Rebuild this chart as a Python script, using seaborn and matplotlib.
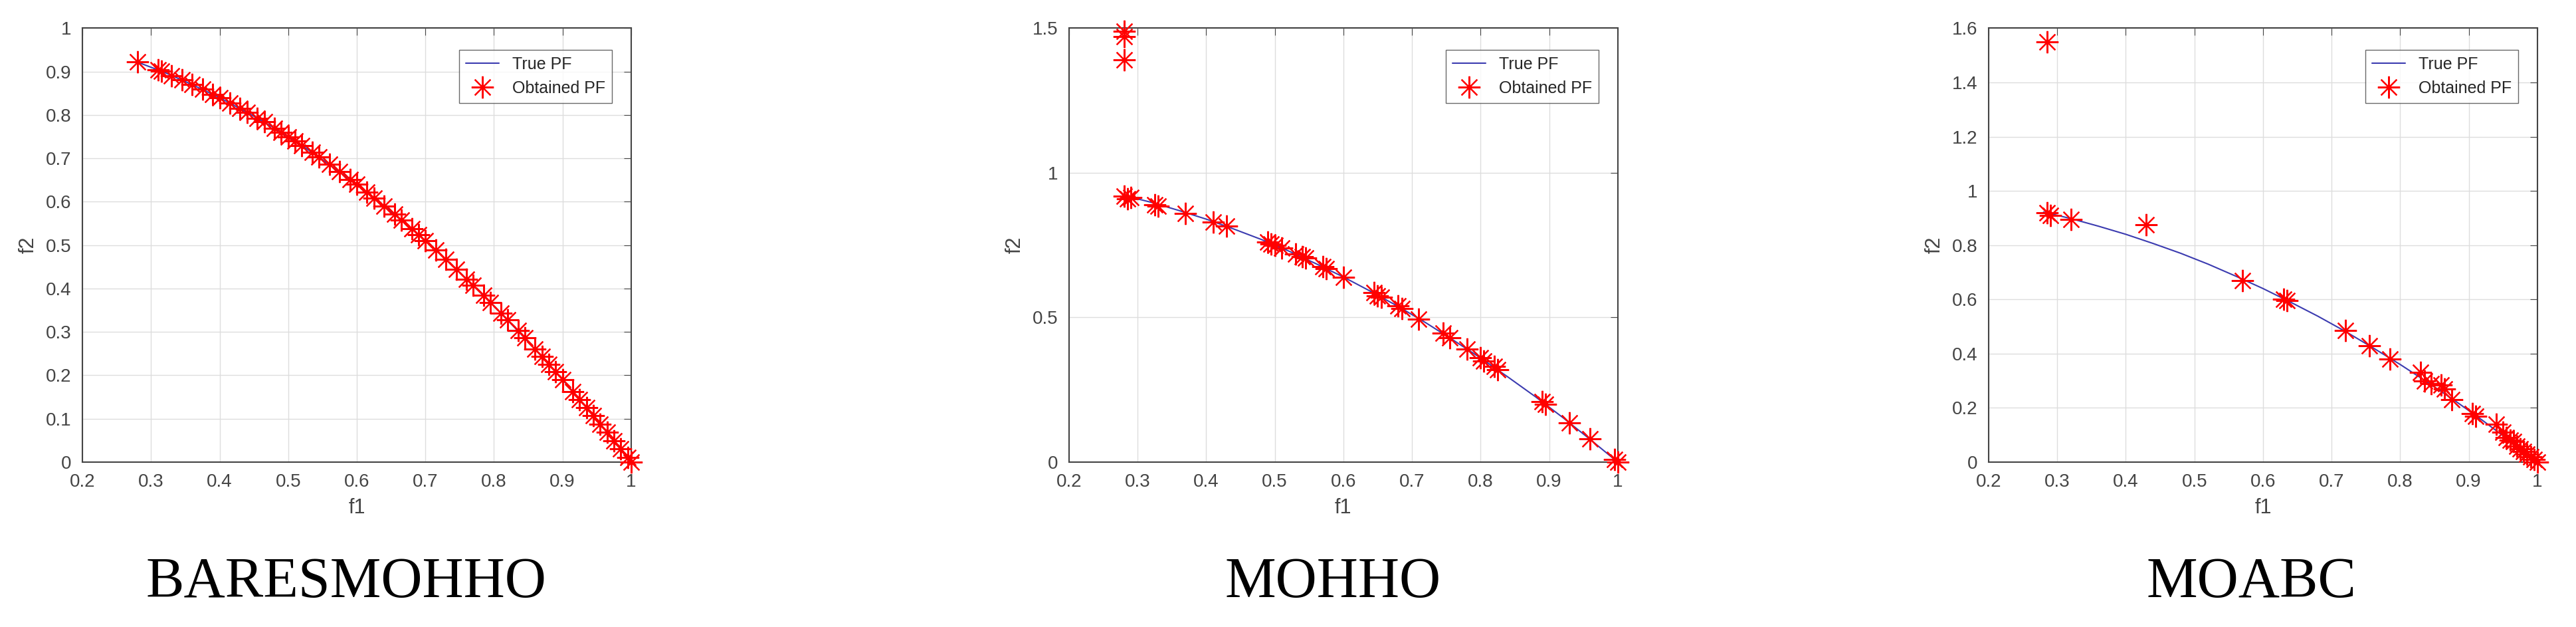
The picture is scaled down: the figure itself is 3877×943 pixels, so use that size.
import numpy as np
import matplotlib
matplotlib.use("Agg")
import matplotlib.pyplot as plt
from matplotlib.ticker import FuncFormatter
import seaborn as sns

# true Pareto front
true_f1 = [0.28, 0.32, 0.36, 0.40, 0.44, 0.48, 0.52, 0.56, 0.60, 0.64,
           0.68, 0.72, 0.76, 0.80, 0.84, 0.88, 0.92, 0.96, 1.0]
true_f2 = [0.922, 0.898, 0.870, 0.840, 0.806, 0.770, 0.730, 0.686, 0.640, 0.590,
           0.538, 0.482, 0.422, 0.360, 0.294, 0.226, 0.154, 0.078, 0.0]

bares_f1 = [0.28, 0.31, 0.315, 0.33, 0.345, 0.36, 0.375, 0.39, 0.40, 0.415, 0.43, 0.44,
            0.455, 0.465, 0.48, 0.49, 0.50, 0.51, 0.52, 0.535, 0.545, 0.56, 0.575, 0.59,
            0.60, 0.615, 0.625, 0.64, 0.655, 0.665, 0.68, 0.69, 0.70, 0.715, 0.73, 0.745,
            0.76, 0.77, 0.785, 0.795, 0.81, 0.82, 0.835, 0.845, 0.86, 0.87, 0.88, 0.89,
            0.90, 0.915, 0.925, 0.935, 0.945, 0.955, 0.965, 0.975, 0.985, 0.995, 1.0]
bares_f2 = [0.922, 0.904, 0.901, 0.891, 0.881, 0.870, 0.859, 0.848, 0.840, 0.828, 0.815, 0.806,
            0.793, 0.784, 0.770, 0.760, 0.750, 0.740, 0.730, 0.714, 0.703, 0.686, 0.669, 0.652,
            0.640, 0.622, 0.609, 0.590, 0.571, 0.558, 0.538, 0.524, 0.510, 0.489, 0.467, 0.445,
            0.422, 0.407, 0.384, 0.368, 0.344, 0.328, 0.303, 0.286, 0.260, 0.243, 0.226, 0.208,
            0.190, 0.163, 0.144, 0.126, 0.107, 0.088, 0.069, 0.049, 0.030, 0.010, 0.0]

mohho_f1 = [0.28, 0.28, 0.28, 0.28, 0.285, 0.29, 0.325, 0.33, 0.37, 0.41, 0.43, 0.49, 0.495,
            0.50, 0.51, 0.53, 0.54, 0.545, 0.57, 0.575, 0.60, 0.645, 0.65, 0.655, 0.68, 0.685,
            0.71, 0.745, 0.755, 0.78, 0.80, 0.805, 0.82, 0.825, 0.89, 0.895, 0.93, 0.96, 0.995, 1.0]
mohho_f2 = [1.49, 1.47, 1.39, 0.92, 0.91, 0.915, 0.89, 0.885, 0.86, 0.83, 0.815, 0.76, 0.755,
            0.75, 0.74, 0.72, 0.71, 0.705, 0.675, 0.67, 0.64, 0.585, 0.575, 0.57, 0.54, 0.53,
            0.495, 0.445, 0.43, 0.39, 0.36, 0.35, 0.33, 0.32, 0.21, 0.20, 0.135, 0.08, 0.01, 0.0]

moabc_f1 = [0.285, 0.285, 0.29, 0.32, 0.43, 0.57, 0.63, 0.635, 0.72, 0.755, 0.785, 0.83, 0.835,
            0.845, 0.86, 0.865, 0.875, 0.905, 0.91, 0.94, 0.95, 0.955, 0.96, 0.965, 0.97, 0.975,
            0.98, 0.985, 0.99, 0.995, 1.0]
moabc_f2 = [1.55, 0.92, 0.91, 0.895, 0.875, 0.67, 0.60, 0.595, 0.485, 0.43, 0.38, 0.33, 0.30,
            0.29, 0.285, 0.27, 0.23, 0.18, 0.17, 0.14, 0.11, 0.09, 0.08, 0.075, 0.06, 0.05,
            0.04, 0.03, 0.02, 0.01, 0.0]

names = ["BARESMOHHO", "MOHHO", "MOABC"]
obtained = [(bares_f1, bares_f2), (mohho_f1, mohho_f2), (moabc_f1, moabc_f2)]
y_limits = [1.0, 1.5, 1.6]
y_steps = [0.1, 0.5, 0.2]

sns.set_style("whitegrid")
plt.rcParams['font.family'] = ['Liberation Sans', 'DejaVu Sans']

fig = plt.figure(figsize=(38.77, 9.43), dpi=100)
lefts = [0.032, 0.415, 0.772]
title_x = [521 / 3877, 2006 / 3877, 3388 / 3877]
fmt = FuncFormatter(lambda v, p: ("%.1f" % v).rstrip("0").rstrip(".") if abs(v) > 1e-9 else "0")

for i in range(3):
    ax = fig.add_axes([lefts[i], 0.263, 0.213, 0.692])
    sns.lineplot(x=true_f1, y=true_f2, ax=ax, color="#3b3bb0", linewidth=1.5,
                 sort=False, label="True PF")
    f1, f2 = obtained[i]
    ax.plot(f1, f2, linestyle="none", marker=(8, 2, 0), markersize=24,
            markeredgecolor="red", markeredgewidth=1.6, label="Obtained PF",
            clip_on=False, zorder=5)
    ax.set_xlim(0.2, 1.0)
    ax.set_ylim(0, y_limits[i])
    ax.set_xticks(np.arange(0.2, 1.0001, 0.1))
    ax.set_yticks(np.arange(0, y_limits[i] + 0.0001, y_steps[i]))
    ax.xaxis.set_major_formatter(fmt)
    ax.yaxis.set_major_formatter(fmt)
    ax.tick_params(labelsize=20, labelcolor="#444444", direction="in", length=8,
                   top=True, right=True, color="#444444", pad=12)
    ax.grid(True, color="#dddddd", linewidth=1)
    for s in ax.spines.values():
        s.set_color("#444444")
        s.set_linewidth(1.5)
    ax.set_xlabel("f1", fontsize=22, color="#444444", labelpad=8)
    ax.set_ylabel("f2", fontsize=22, color="#444444", labelpad=8)
    ax.legend(loc="upper right", fontsize=18, frameon=True, fancybox=False,
              edgecolor="#444444", bbox_to_anchor=(0.98, 0.97))
    fig.text(title_x[i], 0.07, names[i], ha="center", va="center", fontsize=62,
             family="Liberation Serif", color="black")

fig.savefig("out.png", dpi=100, facecolor="white")
